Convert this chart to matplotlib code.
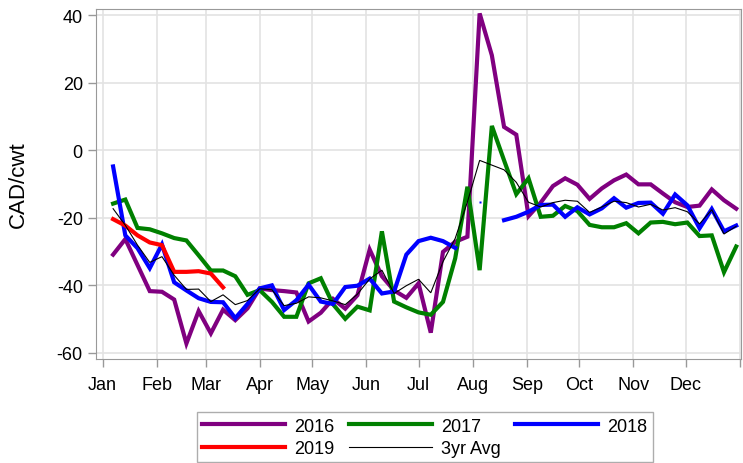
import matplotlib as mpl
mpl.use("Agg")
import matplotlib.pyplot as plt
import numpy as np
import pandas as pd

nan = np.nan

# weekly observations (x = week of the year, drawn on a one-year calendar)
weeks = pd.date_range("2019-01-07", periods=52, freq="7D")

y2016 = [-30.9, -26.3, -34.0, -41.7, -41.9, -44.2, -57.2, -47.6, -54.2, -47.2,
         -50.3, -46.8, -40.9, -41.4, -41.7, -42.1, -50.7, -48.1, -44.0, -46.9,
         -42.9, -29.4, -37.3, -41.5, -43.7, -39.4, -54.0, -30.1, -27.1, -25.6,
         40.5, 28.1, 6.9, 4.6, -19.5, -15.5, -10.6, -8.3, -10.2, -14.4,
         -11.3, -8.9, -7.2, -10.1, -10.1, -12.8, -15.4, -16.8, -16.4, -11.6,
         -14.8, -17.3]
y2017 = [-15.8, -14.6, -23.0, -23.4, -24.6, -26.0, -26.7, -31.1, -35.6, -35.6,
         -37.3, -42.8, -41.4, -44.9, -49.3, -49.3, -39.4, -37.9, -45.6, -49.9,
         -46.3, -47.4, -24.0, -44.8, -46.5, -48.0, -48.7, -44.9, -32.0, -10.8,
         -35.5, 7.2, -3.0, -13.0, -8.3, -19.7, -19.4, -16.5, -18.0, -22.1,
         -22.8, -22.8, -21.6, -24.6, -21.4, -21.2, -21.9, -21.4, -25.4, -25.2,
         -36.1, -28.5]
y2018 = [-4.8, -25.2, -29.0, -34.9, -27.9, -39.1, -41.5, -43.8, -44.9, -45.0,
         -49.7, -45.5, -40.9, -40.0, -47.3, -44.4, -39.8, -44.8, -45.5, -40.5,
         -40.1, -38.0, -42.4, -41.8, -30.9, -26.9, -25.9, -26.9, -28.9, nan,
         -15.3, nan, -20.7, -19.7, -18.2, -16.2, -16.1, -19.7, -16.9, -19.0,
         -17.2, -14.2, -17.0, -15.6, -15.5, -18.8, -13.1, -16.3, -23.1, -17.4,
         -24.0, -22.3]
y2019 = [-20.4, -22.3, -25.2, -27.3, -28.1, -36.0, -36.0, -35.8, -36.5, -40.6]
avg3yr = [-17.3, -22.2, -28.1, -33.2, -31.5, -37.0, -41.2, -41.1, -44.8, -42.8,
          -45.7, -44.5, -41.0, -41.3, -46.0, -45.3, -43.4, -43.7, -44.6, -45.7,
          -42.6, -38.1, -35.5, -42.4, -40.1, -38.2, -42.2, -33.0, -26.1, -15.3,
          -3.0, -4.4, -5.8, -9.5, -15.4, -16.8, -15.5, -14.8, -15.1, -18.4,
          -16.8, -15.1, -15.5, -16.8, -16.0, -17.7, -17.0, -18.2, -21.8, -17.6,
          -24.8, -22.5]

month_labels = ["Jan", "Feb", "Mar", "Apr", "May", "Jun",
                "Jul", "Aug", "Sep", "Oct", "Nov", "Dec", ""]
y_ticks = [-60, -40, -20, 0, 20, 40]

plt.rcParams["font.family"] = ["Liberation Sans", "DejaVu Sans"]
plt.rcParams["axes.unicode_minus"] = False

fig = plt.figure(figsize=(7.43, 4.64), dpi=100)
ax = fig.add_axes([0.1292, 0.2241, 0.868, 0.7543])

series = [
    (y2016, "2016", "#800080", 3.0),
    (y2017, "2017", "#008000", 3.0),
    (y2018, "2018", "#0000ff", 3.0),
    (y2019, "2019", "#ff0000", 3.0),
    (avg3yr, "3yr Avg", "black", 0.8),
]
handles = {}
for vals, lab, col, lw in series:
    v = np.array(vals, dtype=float)
    x = weeks[:len(v)]
    handles[lab], = ax.plot(x, v, color=col, lw=lw, label=lab,
                            solid_joinstyle="miter")
    # points with no neighbours would vanish, show them as dots
    prev_nan = np.r_[True, np.isnan(v[:-1])]
    next_nan = np.r_[np.isnan(v[1:]), True]
    lone = ~np.isnan(v) & prev_nan & next_nan
    if lone.any():
        ax.plot(x[lone], v[lone], ls="none", marker="s", ms=2, color=col,
                mec="none")

month_starts = pd.date_range("2019-01-01", periods=13, freq="MS")
ax.set_xticks(month_starts)
ax.set_xticklabels(month_labels)
ax.set_xlim(pd.Timestamp("2019-01-01") - pd.Timedelta(days=3.8),
             pd.Timestamp("2019-01-01") + pd.Timedelta(days=365.7))
ax.set_yticks(y_ticks)
ax.set_ylim(-61.8, 41.8)
ax.set_ylabel("CAD/cwt", fontsize=16, labelpad=20)

ax.grid(True, color="#e3e3e3", lw=1.2)
ax.set_axisbelow(True)
for s in ax.spines.values():
    s.set_color("#999999")
ax.tick_params(axis="both", colors="#999999", labelcolor="black",
               labelsize=13, length=6, width=1)
ax.tick_params(axis="x", pad=6)

# legend reads row by row: 2016 2017 2018 / 2019 3yr Avg
order = ["2016", "2019", "2017", "3yr Avg", "2018"]
leg = ax.legend([handles[k] for k in order], order,
                loc="upper center", bbox_to_anchor=(0.51, -0.152), ncol=3,
                fontsize=13, handlelength=4.6, handletextpad=0.5,
                columnspacing=0.8, labelspacing=0.3, borderpad=0.3,
                fancybox=False, frameon=True, borderaxespad=0)
leg.get_frame().set_edgecolor("#999999")
leg.get_frame().set_linewidth(1)

plt.savefig("out.png", dpi=100)
